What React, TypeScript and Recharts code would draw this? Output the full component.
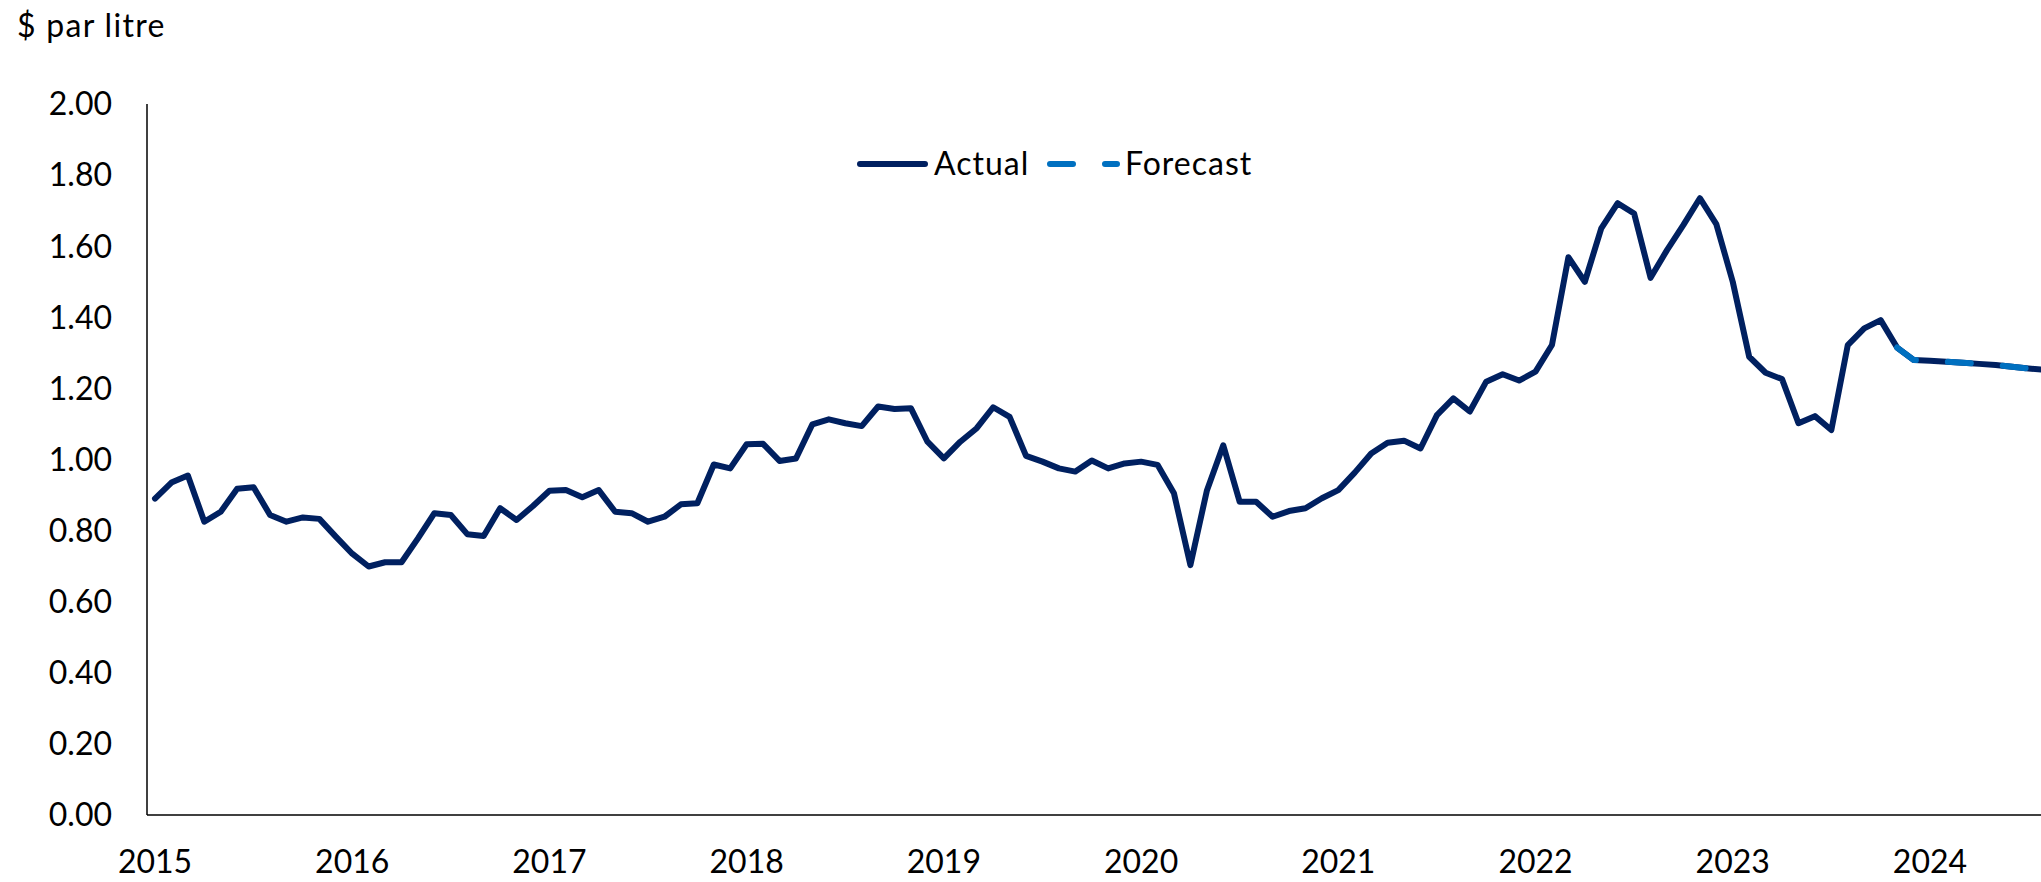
import React from "react";
import { LineChart, Line, XAxis, YAxis } from "recharts";

// monthly categories, Jan 2015 .. Aug 2024 (the plot runs past the right edge)
const YEARS = [2015, 2016, 2017, 2018, 2019, 2020, 2021, 2022, 2023, 2024];
const MONTHS = ["01", "02", "03", "04", "05", "06", "07", "08", "09", "10", "11", "12"];
const categories = YEARS.flatMap((y) => MONTHS.map((m) => `${y}-${m}`)).slice(0, 116);

const actual = [
  // 2015
  0.89, 0.935, 0.955, 0.825, 0.853, 0.918, 0.922, 0.844, 0.825, 0.837, 0.833, 0.783,
  // 2016
  0.735, 0.699, 0.711, 0.711, 0.778, 0.849, 0.844, 0.79, 0.785, 0.863, 0.83, 0.869,
  // 2017
  0.912, 0.914, 0.894, 0.914, 0.853, 0.849, 0.825, 0.839, 0.874, 0.877, 0.986, 0.975,
  // 2018
  1.043, 1.044, 0.996, 1.003, 1.099, 1.113, 1.102, 1.094, 1.149, 1.142, 1.144, 1.05,
  // 2019
  1.003, 1.05, 1.088, 1.147, 1.12, 1.01, 0.994, 0.975, 0.966, 0.997, 0.975, 0.989,
  // 2020
  0.994, 0.985, 0.905, 0.703, 0.912, 1.04, 0.881, 0.881, 0.839, 0.855, 0.863, 0.891,
  // 2021
  0.914, 0.963, 1.017, 1.047, 1.053, 1.031, 1.125, 1.172, 1.135, 1.219, 1.24, 1.222,
  // 2022
  1.247, 1.322, 1.569, 1.5, 1.65, 1.721, 1.692, 1.511, 1.589, 1.66, 1.735, 1.662,
  // 2023
  1.5, 1.289, 1.244, 1.226, 1.102, 1.122, 1.083, 1.322, 1.369, 1.392, 1.315, 1.28,
  // 2024
  1.278, 1.275, 1.272, 1.269, 1.266, 1.261, 1.256, 1.252,
];

// forecast starts at Nov 2023
const FORECAST_START = 106;
const forecast = [1.315, 1.28, 1.278, 1.275, 1.272, 1.269, 1.266, 1.261, 1.256, 1.252];

const yTicks = [0, 0.2, 0.4, 0.6, 0.8, 1.0, 1.2, 1.4, 1.6, 1.8, 2.0];

const NAVY = "#002060";
const BLUE = "#0070C0";
const DASH = "23 32";
const FONT = "Lato, 'Open Sans', sans-serif";

const data = categories.map((month, i) => ({
  month,
  actual: actual[i],
  forecast: i >= FORECAST_START ? forecast[i - FORECAST_START] : null,
}));

const textStyle: React.CSSProperties = {
  position: "absolute",
  fontFamily: FONT,
  fontSize: 32,
  lineHeight: "32px",
  color: "#000",
  whiteSpace: "nowrap",
  letterSpacing: 1,
};

export default function App() {
  return (
    <div
      style={{
        position: "fixed",
        left: 0,
        top: 0,
        width: 2041,
        height: 882,
        overflow: "hidden",
        background: "#fff",
      }}
    >
      <LineChart
        width={2053}
        height={882}
        data={data}
        margin={{ top: 104, right: 0, bottom: 0, left: 0 }}
      >
        <XAxis
          dataKey="month"
          interval={11}
          height={67}
          padding={{ left: 8, right: 8 }}
          tickLine={false}
          tickSize={0}
          tickMargin={35}
          axisLine={{ stroke: "#000", strokeWidth: 1.5 }}
          tickFormatter={(v: string) => v.slice(0, 4)}
          tick={{ fontFamily: FONT, fontSize: 32, fill: "#000" }}
        />
        <YAxis
          width={147}
          domain={[0, 2]}
          ticks={yTicks}
          tickLine={false}
          tickSize={0}
          tickMargin={35}
          axisLine={{ stroke: "#000", strokeWidth: 1.5 }}
          tickFormatter={(v: number) => v.toFixed(2)}
          tick={{ fontFamily: FONT, fontSize: 32, fill: "#000" }}
        />
        <Line
          dataKey="actual"
          stroke={NAVY}
          strokeWidth={6}
          strokeLinecap="round"
          strokeLinejoin="round"
          dot={false}
          activeDot={false}
          isAnimationActive={false}
        />
        <Line
          dataKey="forecast"
          stroke={BLUE}
          strokeWidth={6}
          strokeDasharray={DASH}
          strokeLinecap="round"
          strokeLinejoin="round"
          dot={false}
          activeDot={false}
          isAnimationActive={false}
        />
      </LineChart>

      <div style={{ ...textStyle, left: 17, top: 9, letterSpacing: 1.3 }}>$ par litre</div>

      {/* legend */}
      <svg style={{ position: "absolute", left: 850, top: 150 }} width={80} height={28}>
        <line x1={10} y1={14} x2={75} y2={14} stroke={NAVY} strokeWidth={6} strokeLinecap="round" />
      </svg>
      <div style={{ ...textStyle, left: 934, top: 147 }}>Actual</div>
      <svg style={{ position: "absolute", left: 1040, top: 150 }} width={85} height={28}>
        <line
          x1={10}
          y1={14}
          x2={77}
          y2={14}
          stroke={BLUE}
          strokeWidth={6}
          strokeDasharray={DASH}
          strokeLinecap="round"
        />
      </svg>
      <div style={{ ...textStyle, left: 1125, top: 147 }}>Forecast</div>
    </div>
  );
}
